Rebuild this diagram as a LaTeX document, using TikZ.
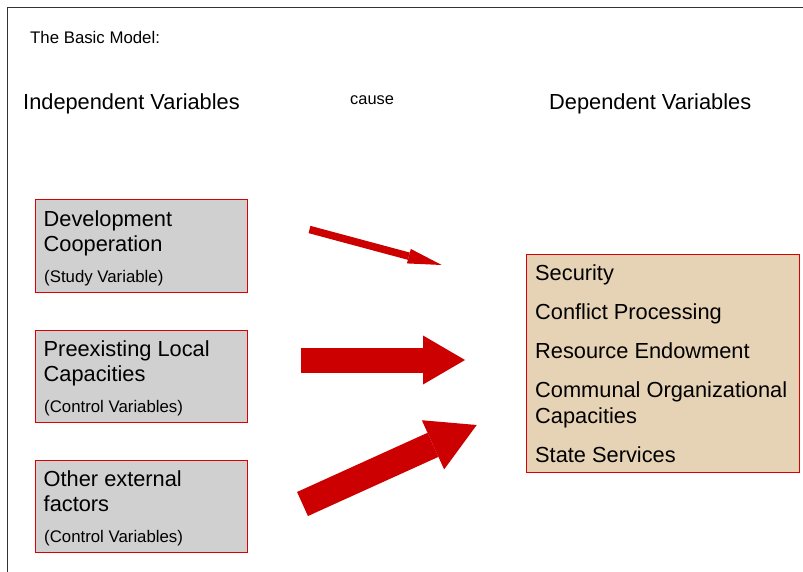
\documentclass[tikz,border=0pt]{standalone}
\usepackage{fontspec}
\setmainfont{Liberation Sans}
\usetikzlibrary{arrows.meta}
\definecolor{arrowred}{HTML}{CC0000}
\definecolor{boxred}{HTML}{DD0000}
\definecolor{boxgray}{HTML}{D0D0D0}
\definecolor{boxtan}{HTML}{E6D3B5}
\begin{document}
\begin{tikzpicture}[x=1pt,y=-1pt,
  big/.style={font=\fontsize{21.8}{26}\selectfont, inner sep=0pt, anchor=base west},
  small/.style={font=\fontsize{16.8}{20}\selectfont, inner sep=0pt, anchor=base west},
  ivbox/.style={draw=boxred, fill=boxgray, line width=1pt, inner sep=0pt, anchor=north west, minimum width=212pt, minimum height=92pt},
  dvbox/.style={draw=boxred, fill=boxtan, line width=1pt, inner sep=0pt, anchor=north west, minimum width=273pt, minimum height=218pt},
  blockarrow/.style={draw=arrowred, line cap=butt}]
\useasboundingbox (0,0) rectangle (803,572);
\draw[line width=1pt, black!80] (7.5,572) -- (7.5,7.5) -- (803,7.5);

% headings
\node[small] (title) at (30,43.5) {The Basic Model:};
\node[big] (iv) at (23,110) {Independent Variables};
\node[font=\fontsize{16.4}{19}\selectfont, inner sep=0pt, anchor=base west] (cause) at (350,104.5) {cause};
\node[big] (dv) at (549,110) {Dependent Variables};

% independent variable boxes
\node[ivbox] (dc) at (34.5,199.5) {};
\node[big] (dc1) at (43.5,226) {Development};
\node[big] (dc2) at (43.5,251.5) {Cooperation};
\node[small] (dc3) at (44,282.5) {(Study Variable)};

\node[ivbox] (plc) at (34.5,329.5) {};
\node[big] (plc1) at (43.5,356) {Preexisting Local};
\node[big] (plc2) at (43.5,381.5) {Capacities};
\node[small] (plc3) at (44,412.5) {(Control Variables)};

\node[ivbox] (oef) at (34.5,459.5) {};
\node[big] (oef1) at (43.5,486) {Other external};
\node[big] (oef2) at (43.5,511.5) {factors};
\node[small] (oef3) at (44,542.5) {(Control Variables)};

% dependent variable box
\node[dvbox] (dep) at (526,254) {};
\node[big] (d1) at (535,280.5) {Security};
\node[big] (d2) at (535,319.5) {Conflict Processing};
\node[big] (d3) at (535,358.5) {Resource Endowment};
\node[big] (d4) at (535,397.5) {Communal Organizational};
\node[big] (d4b) at (535,423.5) {Capacities};
\node[big] (d5) at (535,462.5) {State Services};

% arrows
\coordinate (a1s) at (309.5,229.5);
\coordinate (a1e) at (441.7,265);
\coordinate (a2s) at (300.7,360);
\coordinate (a2e) at (465,360);
\coordinate (a3s) at (302.5,504);
\coordinate (a3e) at (476.7,425);
\draw[blockarrow, line width=7.5pt, -{Triangle[length=34pt,width=15pt,line width=0pt,fill=arrowred]}] (a1s) -- (a1e);
\draw[blockarrow, line width=25pt, -{Triangle[length=42pt,width=49pt,line width=0pt,fill=arrowred]}] (a2s) -- (a2e);
\draw[blockarrow, line width=26.4pt, -{Triangle[length=48pt,width=54pt,line width=0pt,fill=arrowred]}] (a3s) -- (a3e);
\end{tikzpicture}
\end{document}
